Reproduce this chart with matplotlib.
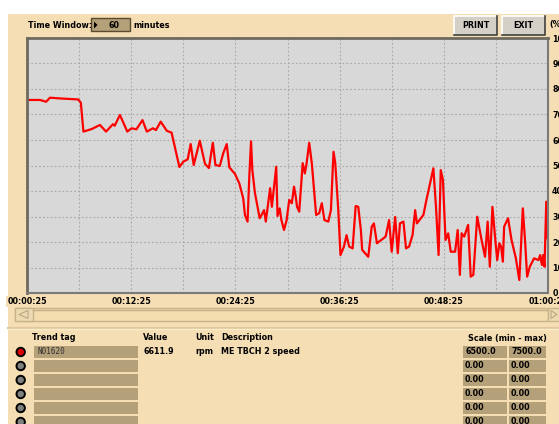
import matplotlib.pyplot as plt
from matplotlib.patches import Rectangle, Polygon, Circle

# trend samples: minutes since window start, ME TBCH 2 speed (rpm)
t_min = [0.1, 1.5, 2.2, 2.65, 3.8, 5.9, 6.2, 6.5, 7.45, 8.4, 9.1, 9.9, 10.1, 10.7,
         11.55, 12.05, 12.6, 13.3, 13.8, 14.5, 14.85, 15.4, 16.1, 16.65, 17.55, 18.0,
         18.5, 18.85, 19.2, 19.9, 20.5, 20.95, 21.4, 21.7, 22.2, 22.6, 23.0, 23.3,
         23.95, 24.45, 24.9, 25.1, 25.4, 25.6, 25.8, 25.95, 26.25, 26.8, 27.3, 27.5,
         28.0, 28.2, 28.4, 28.7, 28.85, 29.1, 29.3, 29.6, 29.9, 30.2, 30.5, 30.75,
         30.95, 31.1, 31.35, 31.75, 32.0, 32.2, 32.5, 32.8, 33.3, 33.65, 33.95, 34.25,
         34.7, 35.0, 35.3, 35.5, 35.85, 36.1, 36.5, 36.8, 37.1, 37.5, 37.85, 38.15,
         38.45, 38.6, 39.3, 39.7, 39.95, 40.3, 41.3, 41.7, 42.0, 42.4, 42.7, 42.95,
         43.35, 43.65, 44.0, 44.4, 44.7, 44.9, 45.65, 46.0, 46.5, 46.8, 47.1, 47.4,
         47.65, 47.9, 48.2, 48.5, 48.8, 49.3, 49.6, 49.85, 50.05, 50.35, 50.8, 51.1,
         51.4, 51.85, 52.35, 52.75, 53.05, 53.3, 53.6, 53.9, 54.15, 54.4, 54.6, 54.8,
         54.95, 55.4, 55.8, 56.3, 56.7, 57.1, 57.35, 57.6, 57.9, 58.4, 58.9, 59.1,
         59.3, 59.45, 59.6, 59.8, 59.95]
speed_rpm = [7257, 7257, 7250, 7266, 7263, 7259, 7246, 7133, 7143, 7159, 7133, 7162, 7156, 7198,
             7133, 7146, 7142, 7178, 7133, 7146, 7139, 7172, 7136, 7129, 6994, 7015,
             7024, 7084, 7002, 7097, 7006, 6990, 7089, 7002, 6998, 7048, 7084, 6993,
             6967, 6930, 6871, 6806, 6780, 6956, 7095, 6982, 6892, 6793, 6825, 6780,
             6911, 6838, 6900, 6995, 6802, 6832, 6786, 6747, 6786, 6865, 6852, 6917,
             6878, 6838, 6819, 7009, 6969, 7009, 7089, 7009, 6806, 6813, 6852, 6786,
             6780, 6825, 7054, 7009, 6825, 6649, 6682, 6727, 6682, 6675, 6841, 6838,
             6747, 6669, 6642, 6760, 6773, 6695, 6721, 6786, 6662, 6798, 6656, 6773,
             6780, 6675, 6682, 6727, 6825, 6773, 6806, 6865, 6943, 6989, 6838, 6649,
             6982, 6943, 6708, 6734, 6662, 6662, 6747, 6571, 6734, 6721, 6767, 6564,
             6571, 6799, 6708, 6642, 6780, 6603, 6838, 6721, 6629, 6695, 6682, 6623,
             6760, 6793, 6708, 6636, 6551, 6832, 6708, 6564, 6603, 6636, 6629, 6649,
             6610, 6649, 6603, 6858, 6715]

scale_min = 6500.0
scale_max = 7500.0
window_minutes = 60
time_ticks = [0, 12, 24, 36, 48, 60]
time_labels = ['00:00:25', '00:12:25', '00:24:25', '00:36:25', '00:48:25', '01:00:25']
pct_ticks = list(range(0, 101, 10))

tags = ['N01620', '', '', '', '', '']
values = ['6611.9', '', '', '', '', '']
units = ['rpm', '', '', '', '', '']
descriptions = ['ME TBCH 2 speed', '', '', '', '', '']
mins = ['6500.0', '0.00', '0.00', '0.00', '0.00', '0.00']
maxs = ['7500.0', '0.00', '0.00', '0.00', '0.00', '0.00']

BEIGE = '#f5deb3'
TAN = '#b4a079'
FONT = dict(family='DejaVu Sans', fontweight='bold', fontsize=5.8, color='black')

W, H = 559, 424
fig = plt.figure(figsize=(W / 100, H / 100), dpi=100, facecolor='white')

# overlay in pixel coordinates for the panel decoration
ov = fig.add_axes([0, 0, 1, 1], zorder=0)
ov.set_xlim(0, W)
ov.set_ylim(H, 0)
ov.axis('off')
ov.add_patch(Rectangle((8, 14), W - 8, H - 14, facecolor=BEIGE, edgecolor='none'))

# time window control
ov.text(28, 25, 'Time Window:', ha='left', va='center', **FONT)
ov.add_patch(Rectangle((91, 18), 39, 13, facecolor=TAN, edgecolor='#5a4a30', lw=1))
ov.add_patch(Polygon([[94, 21.5], [94, 28.5], [97.5, 25]], closed=True, facecolor='black'))
ov.text(114, 25, str(window_minutes), ha='center', va='center', **FONT)
ov.text(133, 25, 'minutes', ha='left', va='center', **FONT)


def button(x0, x1, y0, y1, label):
    ov.add_patch(Rectangle((x0, y0), x1 - x0, y1 - y0, facecolor='#d4d0c8', edgecolor='none'))
    ov.plot([x0, x0, x1], [y1, y0, y0], color='white', lw=1.2)
    ov.plot([x0, x1, x1], [y1, y1, y0], color='#404040', lw=1.2)
    ov.text((x0 + x1) / 2, (y0 + y1) / 2 + 0.5, label, ha='center', va='center', **FONT)


button(454, 497, 16, 35, 'PRINT')
button(502, 545, 16, 35, 'EXIT')
ov.text(549, 25, '(%)', ha='left', va='center', **FONT)

# scrollbar
ov.add_patch(Rectangle((15, 308), 533, 13, facecolor='#f3dcae', edgecolor='#c8b48a', lw=1))
ov.plot([33, 548], [309.5, 309.5], color='#c4ae84', lw=1)
ov.add_patch(Rectangle((15, 308), 18, 13, facecolor='#eedab0', edgecolor='#c8b48a', lw=1))
ov.add_patch(Polygon([[19, 314.5], [28, 310.5], [28, 318.5]], closed=True,
                     facecolor='none', edgecolor='#b8a888', lw=0.8))
ov.add_patch(Rectangle((548, 308), 12, 13, facecolor='#eedab0', edgecolor='#c8b48a', lw=1))
ov.add_patch(Polygon([[557, 314.5], [551, 310.5], [551, 318.5]], closed=True,
                     facecolor='none', edgecolor='#b8a888', lw=0.8))
ov.plot([8, W], [327.5, 327.5], color='#e0c89c', lw=1.5)
ov.plot([8, W], [329, 329], color='#fbeccc', lw=1)

# trend table
ov.text(32, 338, 'Trend tag', ha='left', va='center', **FONT)
ov.text(143, 338, 'Value', ha='left', va='center', **FONT)
ov.text(195, 338, 'Unit', ha='left', va='center', **FONT)
ov.text(221, 338, 'Description', ha='left', va='center', **FONT)
ov.text(507, 338, 'Scale (min - max)', ha='center', va='center', **FONT)
for i in range(len(tags)):
    yc = 352 + 14 * i
    ov.add_patch(Circle((20.7, yc), 4.2, facecolor='#e00000' if i == 0 else '#808080',
                        edgecolor='black', lw=1.4))
    ov.add_patch(Rectangle((34, yc - 6), 104, 12, facecolor=TAN, edgecolor='none'))
    ov.text(37, yc, tags[i], ha='left', va='center', family='DejaVu Sans Mono',
            fontsize=5.5, color='#303030')
    ov.text(143, yc, values[i], ha='left', va='center', **FONT)
    ov.text(195, yc, units[i], ha='left', va='center', **FONT)
    ov.text(221, yc, descriptions[i], ha='left', va='center', **FONT)
    ov.add_patch(Rectangle((463, yc - 6), 44, 12, facecolor=TAN, edgecolor='none'))
    ov.add_patch(Rectangle((509, yc - 6), 37, 12, facecolor=TAN, edgecolor='none'))
    ov.text(465, yc, mins[i], ha='left', va='center', **FONT)
    ov.text(511, yc, maxs[i], ha='left', va='center', **FONT)

# trend plot
ax = fig.add_axes([27 / W, (H - 293) / H, 521 / W, 255 / H], zorder=1)
ax.set_facecolor('#d8d8d8')
pct = [(v - scale_min) / (scale_max - scale_min) * 100 for v in speed_rpm]
ax.plot(t_min, pct, color='#ff0000', lw=1.6)
ax.set_xlim(0, window_minutes)
ax.set_ylim(0, 100)
ax.set_xticks(range(0, window_minutes + 1, 6))
ax.set_xticklabels([time_labels[time_ticks.index(t)] if t in time_ticks else ''
                    for t in range(0, window_minutes + 1, 6)])
ax.set_yticks(pct_ticks)
ax.set_yticklabels([str(p) for p in pct_ticks])
ax.yaxis.tick_right()
ax.tick_params(length=0, labelsize=5.8)
ax.tick_params(axis='x', pad=3)
ax.tick_params(axis='y', pad=3)
for lab in ax.get_xticklabels() + ax.get_yticklabels():
    lab.set_fontweight('bold')
for lab in ax.get_xticklabels():
    lab.set_bbox(dict(facecolor=BEIGE, edgecolor='none', pad=0.5))
ax.grid(True, color='#a8a8a8', lw=0.8, linestyle=(0, (1.5, 2)))
for side in ['left', 'top']:
    ax.spines[side].set_color('#6e6a60')
    ax.spines[side].set_linewidth(2)
for side in ['right', 'bottom']:
    ax.spines[side].set_color('#7a7a7a')
    ax.spines[side].set_linewidth(1.5)

fig.savefig('out.png', dpi=100, facecolor='white')
